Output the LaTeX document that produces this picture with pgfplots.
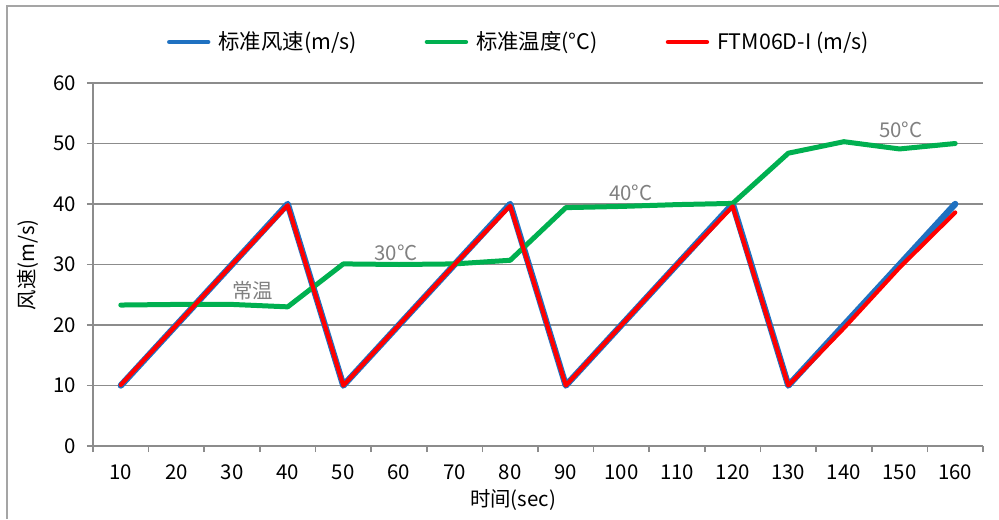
\documentclass[border=0pt]{standalone}
\usepackage{pgfplots}
\pgfplotsset{compat=1.18}
\usepackage{fontspec}
\setmainfont{Noto Sans CJK SC}
\definecolor{cblue}{RGB}{31,113,193}
\definecolor{cgreen}{RGB}{0,176,80}
\definecolor{cred}{RGB}{255,0,0}
\definecolor{cgrid}{RGB}{140,140,140}
\definecolor{cframe}{RGB}{165,165,165}
\definecolor{cnote}{RGB}{128,128,128}
\begin{document}
\begin{tikzpicture}
\useasboundingbox (0pt,0pt) rectangle (499.5pt,259.5pt);
\draw[cframe,line width=1.2pt] (3.5pt,0pt) -- (3.5pt,256.5pt) -- (499.5pt,256.5pt);
\begin{axis}[
  at={(46.5pt,36.5pt)}, anchor=south west,
  scale only axis, width=445pt, height=181.5pt,
  xmin=-0.5, xmax=15.5, ymin=0, ymax=60,
  xtick={0,...,15},
  xticklabels={10,20,30,40,50,60,70,80,90,100,110,120,130,140,150,160},
  minor xtick={-0.5,0.5,...,15.5},
  ytick={0,10,...,60},
  axis x line*=bottom, axis y line*=left,
  axis line style={cgrid,line width=0.8pt,-},
  major x tick style={draw=none},
  minor x tick style={cgrid,line width=0.8pt},
  y tick style={cgrid,line width=0.8pt},
  tick align=outside,
  major tick length=3pt, minor tick length=3pt,
  ymajorgrids, grid style={cgrid,line width=0.7pt},
  /pgf/number format/assume math mode=true,
  tick label style={font=\fontsize{10.2}{12}\selectfont, text=black},
  xticklabel style={yshift=-3pt},
  yticklabel style={xshift=-2pt},
  xlabel={时间(sec)}, ylabel={风速(m/s)},
  label style={font=\fontsize{10.2}{12}\selectfont},
  xlabel style={at={(axis description cs:0.472,-0.149)}, anchor=center},
  ylabel style={at={(axis description cs:-0.073,0.499)}, anchor=center, rotate=0},
  legend columns=3,
  legend style={draw=none, fill=none, at={(0.076,1.113)}, anchor=west,
    font=\fontsize{10.7}{12}\selectfont,
    /tikz/every odd column/.append style={column sep=2pt},
    /tikz/every even column/.append style={column sep=32pt}},
  legend image code/.code={\draw[#1,line width=2.2pt,line cap=round] (0pt,0pt) -- (19.5pt,0pt);},
  clip=false,
  every axis plot/.append style={line cap=round, line join=round},
]
\addplot[cblue, line width=3.2pt] coordinates {
(0,10) (1,20) (2,30) (3,40) (4,10) (5,20) (6,30) (7,40)
(8,10) (9,20) (10,30) (11,40) (12,10) (13,20) (14,30) (15,40)};
\addlegendentry{标准风速(m/s)}
\addplot[cgreen, line width=2.5pt] coordinates {
(0,23.3) (1,23.4) (2,23.4) (3,23.0) (4,30.1) (5,30.0) (6,30.1) (7,30.7)
(8,39.4) (9,39.6) (10,39.9) (11,40.1) (12,48.4) (13,50.3) (14,49.1) (15,50.0)};
\addlegendentry{标准温度(°C)}
\addplot[cred, line width=2.1pt] coordinates {
(0,10.1) (1,20.0) (2,30.0) (3,39.8) (4,10.0) (5,20.0) (6,30.0) (7,39.7)
(8,10.0) (9,20.0) (10,30.0) (11,39.6) (12,10.0) (13,19.5) (14,29.5) (15,38.6)};
\addlegendentry{FTM06D-I (m/s)}
\node[text=cnote, font=\fontsize{10.2}{12}\selectfont] at (axis cs:2.37,25.6) {常温};
\node[text=cnote, font=\fontsize{10.2}{12}\selectfont] at (axis cs:4.95,31.9) {30°C};
\node[text=cnote, font=\fontsize{10.2}{12}\selectfont] at (axis cs:9.17,41.8) {40°C};
\node[text=cnote, font=\fontsize{10.2}{12}\selectfont] at (axis cs:14.02,52.2) {50°C};
\end{axis}
\end{tikzpicture}
\end{document}
